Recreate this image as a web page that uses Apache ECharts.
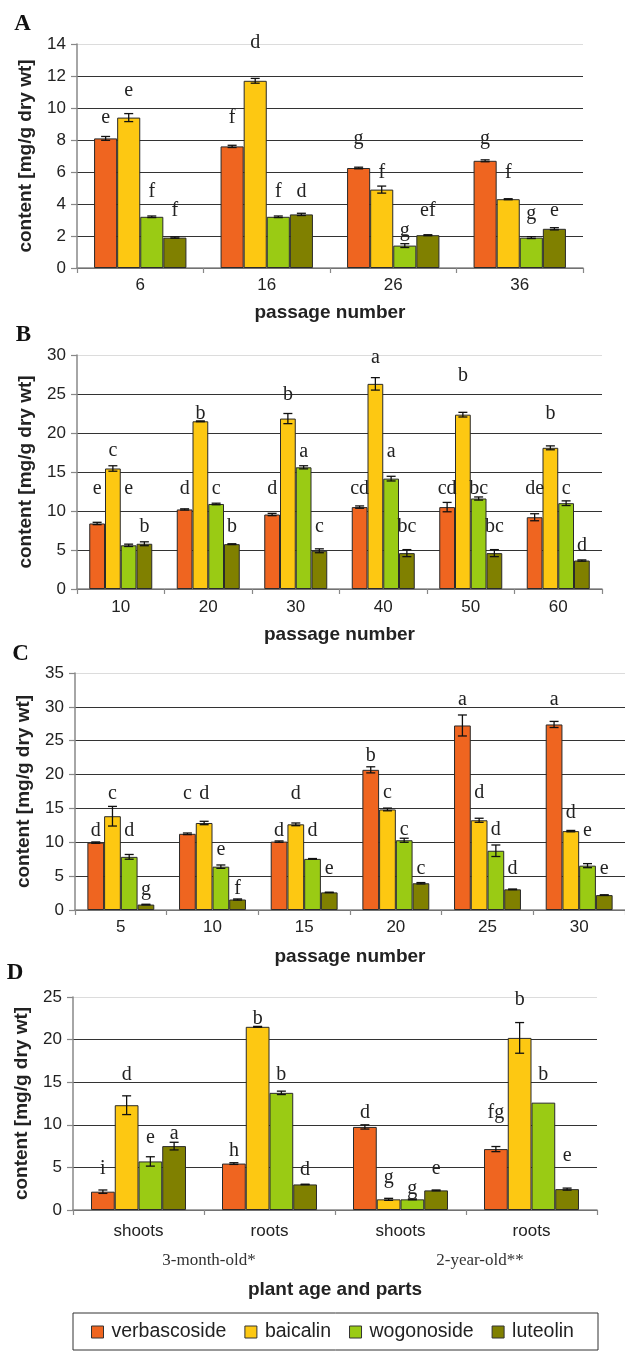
<!DOCTYPE html>
<html><head><meta charset="utf-8">
<script src="https://cdn.jsdelivr.net/npm/echarts@6/dist/echarts.min.js"></script>
<style>html,body{margin:0;padding:0;background:#fff;}#c{width:625px;height:1351px;}</style>
</head><body><div id="c"></div>
<script>
// ---------- data ----------
const seriesNames = ['verbascoside', 'baicalin', 'wogonoside', 'luteolin'];

// Panel A
const A_cats = ['6', '16', '26', '36'];
const A_verb = [8.1, 7.6, 6.25, 6.7];
const A_baic = [9.4, 11.7, 4.9, 4.3];
const A_wogo = [3.2, 3.2, 1.4, 1.9];
const A_lute = [1.9, 3.35, 2.05, 2.45];
const A_verb_err = [0.12, 0.07, 0.05, 0.06];
const A_baic_err = [0.25, 0.15, 0.22, 0.03];
const A_wogo_err = [0.05, 0.05, 0.12, 0.06];
const A_lute_err = [0.04, 0.07, 0.03, 0.07];
const A_verb_let = ['e', 'f', 'g', 'g'];
const A_baic_let = ['e', 'd', 'f', 'f'];
const A_wogo_let = ['f', 'f', 'g', 'g'];
const A_lute_let = ['f', 'd', 'ef', 'e'];
const A_verb_letY = [9.4, 9.4, 8.1, 8.1];
const A_baic_letY = [11.05, 14.05, 5.95, 5.95];
const A_wogo_letY = [4.75, 4.75, 2.35, 3.4];
const A_lute_letY = [3.55, 4.75, 3.55, 3.55];

// Panel B
const B_cats = ['10', '20', '30', '40', '50', '60'];
const B_verb = [8.4, 10.2, 9.55, 10.5, 10.5, 9.2];
const B_baic = [15.45, 21.5, 21.85, 26.3, 22.35, 18.1];
const B_wogo = [5.6, 10.9, 15.6, 14.15, 11.6, 11.0];
const B_lute = [5.8, 5.75, 4.9, 4.6, 4.6, 3.65];
const B_verb_err = [0.15, 0.08, 0.15, 0.15, 0.6, 0.45];
const B_baic_err = [0.35, 0.05, 0.65, 0.8, 0.3, 0.25];
const B_wogo_err = [0.15, 0.1, 0.2, 0.3, 0.2, 0.3];
const B_lute_err = [0.25, 0.05, 0.25, 0.45, 0.45, 0.08];
const B_verb_let = ['e', 'd', 'd', 'cd', 'cd', 'de'];
const B_baic_let = ['c', 'b', 'b', 'a', 'b', 'b'];
const B_wogo_let = ['e', 'c', 'a', 'a', 'bc', 'c'];
const B_lute_let = ['b', 'b', 'c', 'bc', 'bc', 'd'];
const B_verb_letY = [12.9, 12.9, 12.9, 12.9, 12.9, 12.9];
const B_baic_letY = [17.7, 22.5, 24.95, 29.7, 27.3, 22.5];
const B_wogo_letY = [12.8, 12.9, 17.6, 17.6, 12.9, 12.9];
const B_lute_letY = [8.0, 8.0, 8.0, 8.0, 8.0, 5.6];

// Panel C
const C_cats = ['5', '10', '15', '20', '25', '30'];
const C_verb = [9.95, 11.25, 10.1, 20.7, 27.25, 27.4];
const C_baic = [13.85, 12.85, 12.65, 14.85, 13.25, 11.65];
const C_wogo = [7.85, 6.4, 7.55, 10.3, 8.75, 6.55];
const C_lute = [0.8, 1.55, 2.6, 3.95, 3.05, 2.2];
const C_verb_err = [0.1, 0.12, 0.1, 0.45, 1.55, 0.45];
const C_baic_err = [1.45, 0.25, 0.2, 0.2, 0.3, 0.1];
const C_wogo_err = [0.35, 0.25, 0.05, 0.3, 0.85, 0.3];
const C_lute_err = [0.05, 0.08, 0.03, 0.1, 0.05, 0.05];
const C_verb_let = ['d', 'c', 'd', 'b', 'a', 'a'];
const C_baic_let = ['c', 'd', 'd', 'c', 'd', 'd'];
const C_wogo_let = ['d', 'e', 'd', 'c', 'd', 'e'];
const C_lute_let = ['g', 'f', 'e', 'c', 'd', 'e'];
const C_verb_letY = [11.7, 17.2, 11.7, 22.8, 31.0, 31.0];
const C_baic_letY = [17.2, 17.2, 17.2, 17.3, 17.3, 14.3];
const C_wogo_letY = [11.7, 8.9, 11.7, 11.8, 11.8, 11.7];
const C_lute_letY = [2.95, 3.2, 6.1, 6.1, 6.1, 6.1];

// Panel D
const D_cats = ['shoots', 'roots', 'shoots', 'roots'];
const D_groups = ['3-month-old*', '2-year-old**'];
const D_verb = [2.15, 5.45, 9.75, 7.15];
const D_baic = [12.3, 21.5, 1.25, 20.2];
const D_wogo = [5.7, 13.75, 1.25, 12.6];
const D_lute = [7.5, 3.0, 2.3, 2.45];
const D_verb_err = [0.2, 0.1, 0.25, 0.3];
const D_baic_err = [1.1, 0.05, 0.12, 1.8];
const D_wogo_err = [0.55, 0.2, 0.05, 0];
const D_lute_err = [0.45, 0.03, 0.05, 0.12];
const D_verb_let = ['i', 'h', 'd', 'fg'];
const D_baic_let = ['d', 'b', 'g', 'b'];
const D_wogo_let = ['e', 'b', 'g', 'b'];
const D_lute_let = ['a', 'd', 'e', 'e'];
const D_verb_letY = [4.8, 7.0, 11.4, 11.4];
const D_baic_letY = [15.85, 22.5, 3.8, 24.7];
const D_wogo_letY = [8.5, 15.85, 2.45, 15.85];
const D_lute_letY = [9.0, 4.7, 4.9, 6.35];

// ---------- styles / layout ----------
const colors = ['#EF6520', '#FDC812', '#9ACB14', '#808000'];
const SANS = '"Liberation Sans", Arial, sans-serif';
const SERIF = '"Liberation Serif", "Times New Roman", serif';

const panels = [
  { tag: 'A', tagX: 22.5, tagY: 24.5, cats: A_cats, vals: [A_verb, A_baic, A_wogo, A_lute],
    errs: [A_verb_err, A_baic_err, A_wogo_err, A_lute_err],
    lets: [A_verb_let, A_baic_let, A_wogo_let, A_lute_let],
    letY: [A_verb_letY, A_baic_letY, A_wogo_letY, A_lute_letY],
    max: 14, interval: 2, grid: { left: 77, right: 42, top: 44, height: 224 }, gap: 0.27,
    xName: 'passage number', nameGap: 35, labelMargin: 9 },
  { tag: 'B', tagX: 23.5, tagY: 335, cats: B_cats, vals: [B_verb, B_baic, B_wogo, B_lute],
    errs: [B_verb_err, B_baic_err, B_wogo_err, B_lute_err],
    lets: [B_verb_let, B_baic_let, B_wogo_let, B_lute_let],
    letY: [B_verb_letY, B_baic_letY, B_wogo_letY, B_lute_letY],
    max: 30, interval: 5, grid: { left: 77, right: 23, top: 355, height: 234 }, gap: 0.28,
    xName: 'passage number', nameGap: 36, labelMargin: 10 },
  { tag: 'C', tagX: 20.5, tagY: 654, cats: C_cats, vals: [C_verb, C_baic, C_wogo, C_lute],
    errs: [C_verb_err, C_baic_err, C_wogo_err, C_lute_err],
    lets: [C_verb_let, C_baic_let, C_wogo_let, C_lute_let],
    letY: [C_verb_letY, C_baic_letY, C_wogo_letY, C_lute_letY],
    max: 35, interval: 5, grid: { left: 75, right: -2, top: 673, height: 237 }, gap: 0.27,
    xName: 'passage number', nameGap: 37, labelMargin: 9 },
  { tag: 'D', tagX: 15, tagY: 973, cats: D_cats, vals: [D_verb, D_baic, D_wogo, D_lute],
    errs: [D_verb_err, D_baic_err, D_wogo_err, D_lute_err],
    lets: [D_verb_let, D_baic_let, D_wogo_let, D_lute_let],
    letY: [D_verb_letY, D_baic_letY, D_wogo_letY, D_lute_letY],
    max: 25, interval: 5, grid: { left: 73, right: 28, top: 997, height: 213 }, gap: 0.275,
    xName: 'plant age and parts', nameGap: 70, labelMargin: 13 }
];

function makeRenderer(k, gap, lets) {
  return function (params, api) {
    const ci = api.value(0), v = api.value(1), e = api.value(2), ly = api.value(3);
    const band = api.size([1, 0])[0];
    const bw = band * (1 - gap) / 4;
    const x = api.coord([ci, v])[0] + (k - 1.5) * bw;
    const children = [];
    if (e > 0) {
      const t = api.coord([ci, v + e])[1], b = api.coord([ci, v - e])[1];
      const st = { stroke: '#111', lineWidth: 1.3 };
      children.push({ type: 'line', shape: { x1: x, y1: t, x2: x, y2: b }, style: st });
      children.push({ type: 'line', shape: { x1: x - 4.5, y1: t, x2: x + 4.5, y2: t }, style: st });
      children.push({ type: 'line', shape: { x1: x - 4.5, y1: b, x2: x + 4.5, y2: b }, style: st });
    }
    const yy = api.coord([ci, ly])[1];
    children.push({ type: 'text', x: x, y: yy, style: {
      text: lets[params.dataIndex], fill: '#222', fontSize: 20, fontFamily: SERIF,
      align: 'center', verticalAlign: 'middle' } });
    return { type: 'group', children: children };
  };
}

const grid = [], xAxis = [], yAxis = [], series = [], graphic = [];
panels.forEach(function (p, i) {
  grid.push(p.grid);
  xAxis.push({
    type: 'category', gridIndex: i, data: p.cats,
    axisLine: { lineStyle: { color: '#888', width: 1.5 } },
    axisTick: { show: true, length: 5, lineStyle: { color: '#888', width: 1.2 } },
    axisLabel: { color: '#222', fontSize: 17, fontFamily: SANS, margin: p.labelMargin },
    name: p.xName, nameLocation: 'middle', nameGap: p.nameGap,
    nameTextStyle: { color: '#222', fontSize: 19, fontWeight: 'bold', fontFamily: SANS }
  });
  const nLines = p.max / p.interval + 1;
  const lineColors = [];
  for (let j = 0; j < nLines; j++) lineColors.push(j === nLines - 1 ? '#dcdcdc' : '#333');
  yAxis.push({
    type: 'value', gridIndex: i, min: 0, max: p.max, interval: p.interval,
    axisLine: { show: true, lineStyle: { color: '#888', width: 1.5 } },
    axisTick: { show: true, length: 6, lineStyle: { color: '#888', width: 1.2 } },
    axisLabel: { color: '#222', fontSize: 17, fontFamily: SANS, margin: 11 },
    splitLine: { show: true, lineStyle: { color: lineColors, width: 1.2 } },
    name: 'content [mg/g dry wt]', nameLocation: 'middle', nameGap: 42,
    nameTextStyle: { color: '#222', fontSize: 19, fontWeight: 'bold', fontFamily: SANS }
  });
  p.vals.forEach(function (vals, k) {
    series.push({
      type: 'bar', name: seriesNames[k], xAxisIndex: i, yAxisIndex: i, data: vals,
      barGap: '0%', barCategoryGap: (p.gap * 100) + '%',
      itemStyle: { color: colors[k], borderColor: '#2a2a2a', borderWidth: 1 },
      emphasis: { disabled: true }, animation: false
    });
  });
  p.vals.forEach(function (vals, k) {
    series.push({
      type: 'custom', xAxisIndex: i, yAxisIndex: i, z: 5, animation: false,
      data: vals.map(function (v, ci) { return [ci, v, p.errs[k][ci], p.letY[k][ci]]; }),
      renderItem: makeRenderer(k, p.gap, p.lets[k])
    });
  });
  graphic.push({ type: 'text', x: p.tagX, y: p.tagY, style: {
    text: p.tag, fill: '#111', fontSize: 23, fontWeight: 'bold', fontFamily: SERIF,
    align: 'center', verticalAlign: 'middle' } });
});

graphic.push({ type: 'text', x: 209, y: 1261, style: { text: D_groups[0], fill: '#333', fontSize: 17, fontFamily: SERIF, align: 'center', verticalAlign: 'middle' } });
graphic.push({ type: 'text', x: 480, y: 1261, style: { text: D_groups[1], fill: '#333', fontSize: 17, fontFamily: SERIF, align: 'center', verticalAlign: 'middle' } });
graphic.push({ type: 'rect', shape: { x: 73, y: 1313, width: 525, height: 37 }, style: { fill: 'none', stroke: '#333', lineWidth: 1 } });

const chart = echarts.init(document.getElementById('c'), null, { renderer: 'canvas' });
chart.setOption({
  animation: false,
  grid: grid, xAxis: xAxis, yAxis: yAxis, series: series, graphic: graphic,
  legend: {
    data: seriesNames, left: 91, top: 1322, padding: 0, itemWidth: 12, itemHeight: 12, itemGap: 18,
    icon: 'rect', itemStyle: { borderColor: '#333', borderWidth: 1 },
    textStyle: { fontSize: 19.5, color: '#222', fontFamily: SANS, padding: [0, 0, 0, 3] }
  }
});
</script></body></html>
